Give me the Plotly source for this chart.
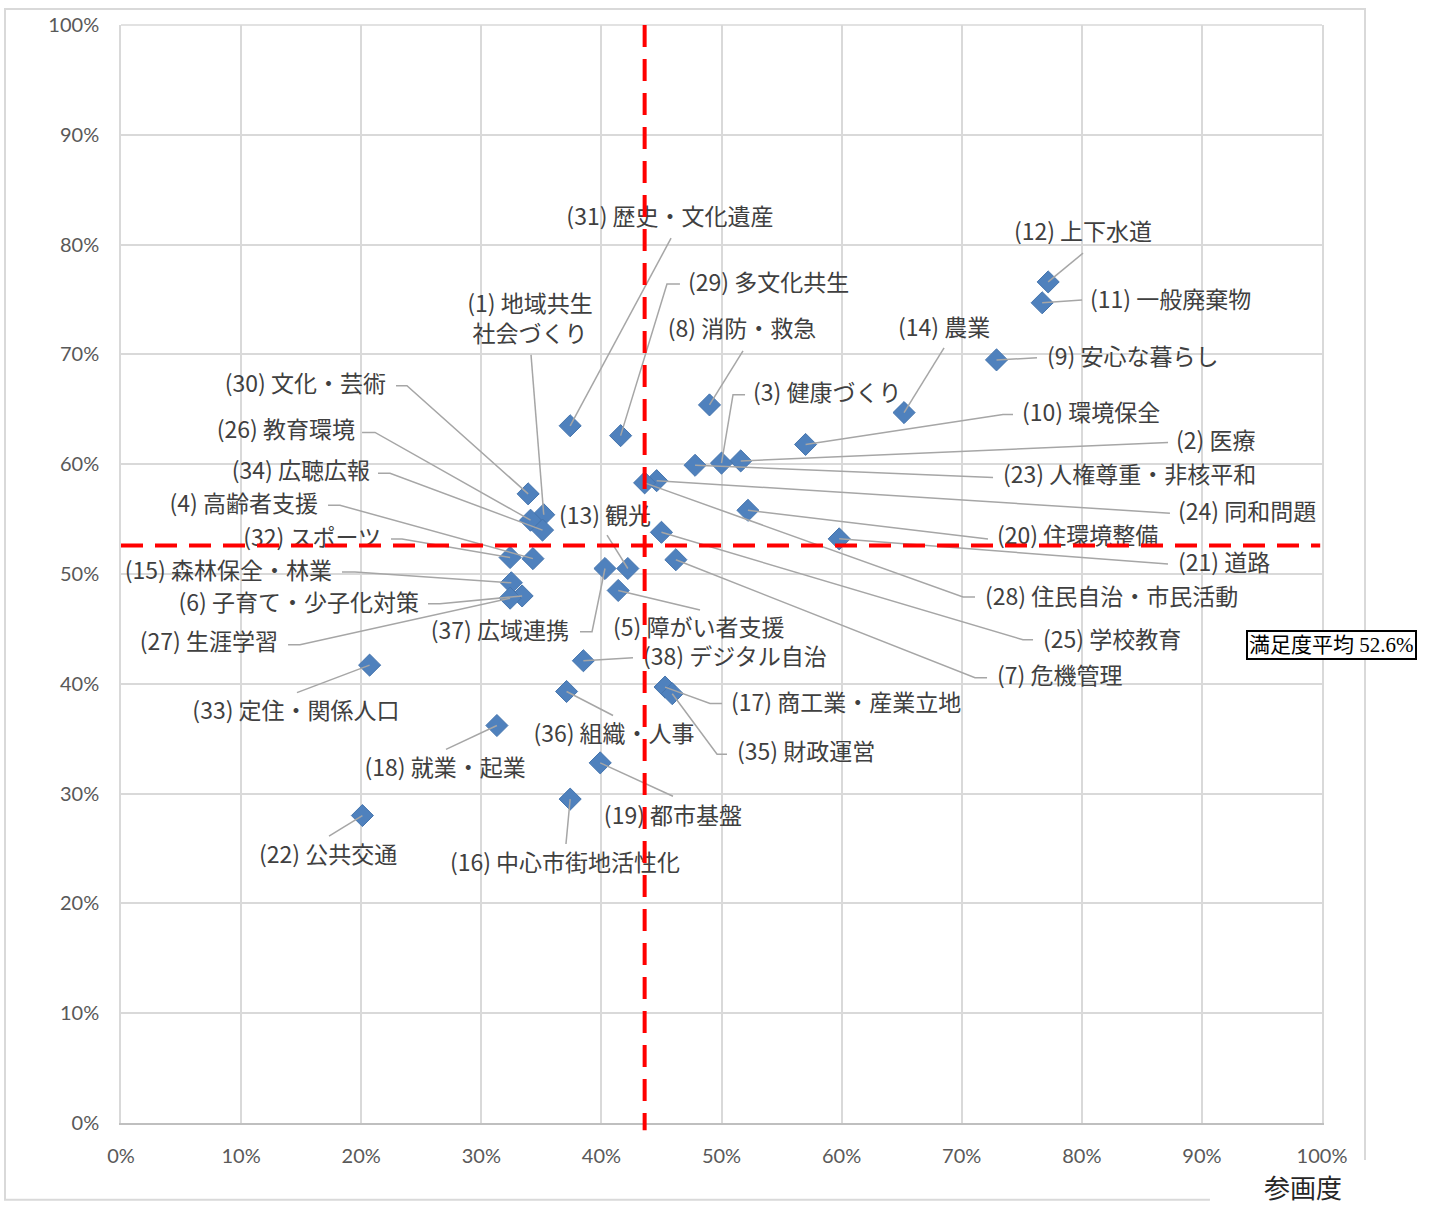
import plotly.graph_objects as go

# ---------------- data ----------------
item_labels = [
    "(1) 地域共生<br>社会づくり", "(2) 医療", "(3) 健康づくり", "(4) 高齢者支援",
    "(5) 障がい者支援", "(6) 子育て・少子化対策", "(7) 危機管理", "(8) 消防・救急",
    "(9) 安心な暮らし", "(10) 環境保全", "(11) 一般廃棄物", "(12) 上下水道",
    "(13) 観光", "(14) 農業", "(15) 森林保全・林業", "(16) 中心市街地活性化",
    "(17) 商工業・産業立地", "(18) 就業・起業", "(19) 都市基盤", "(20) 住環境整備",
    "(21) 道路", "(22) 公共交通", "(23) 人権尊重・非核平和", "(24) 同和問題",
    "(25) 学校教育", "(26) 教育環境", "(27) 生涯学習", "(28) 住民自治・市民活動",
    "(29) 多文化共生", "(30) 文化・芸術", "(31) 歴史・文化遺産", "(32) スポーツ",
    "(33) 定住・関係人口", "(34) 広聴広報", "(35) 財政運営", "(36) 組織・人事",
    "(37) 広域連携", "(38) デジタル自治",
]

# 参画度 (x)
participation = [
    0.352, 0.516, 0.500, 0.343, 0.414, 0.334, 0.462, 0.490, 0.729, 0.570,
    0.767, 0.772, 0.422, 0.652, 0.325, 0.374, 0.453, 0.313, 0.399, 0.522,
    0.598, 0.201, 0.478, 0.446, 0.450, 0.341, 0.324, 0.436, 0.416, 0.339,
    0.374, 0.324, 0.207, 0.351, 0.459, 0.371, 0.403, 0.385,
]

# 満足度 (y)
satisfaction = [
    0.554, 0.603, 0.601, 0.514, 0.485, 0.480, 0.513, 0.654, 0.695, 0.618,
    0.747, 0.766, 0.505, 0.647, 0.492, 0.295, 0.397, 0.362, 0.328, 0.558,
    0.532, 0.280, 0.599, 0.585, 0.538, 0.549, 0.478, 0.583, 0.626, 0.573,
    0.635, 0.515, 0.417, 0.540, 0.391, 0.393, 0.505, 0.421,
]

avg_participation = 0.436
avg_satisfaction = 0.526
avg_text = "満足度平均 52.6%"
x_axis_title = "参画度"

tick_values = [0.0, 0.1, 0.2, 0.3, 0.4, 0.5, 0.6, 0.7, 0.8, 0.9, 1.0]
tick_labels = ["0%", "10%", "20%", "30%", "40%", "50%", "60%", "70%", "80%", "90%", "100%"]

# ---------------- label placement (layout, in percent units) ----------------
# (text x, text y, side, leader waypoints from the marker outward)
label_layout = [
    (34.05, 73.05, "c", [(34.14, 69.96)]),
    (87.84, 61.89, "l", [(87.18, 61.98)]),
    (52.62, 66.24, "l", [(50.96, 66.33), (51.96, 66.33)]),
    (16.40, 56.17, "r", [(18.23, 56.26), (17.24, 56.26)]),
    (40.97, 44.92, "l", [(48.21, 46.73)]),
    (24.81, 47.19, "r", [(26.56, 47.28), (25.56, 47.28)]),
    (72.94, 40.47, "l", [(71.11, 40.56), (72.11, 40.56)]),
    (51.71, 72.14, "c", [(51.79, 70.33)]),
    (77.10, 69.60, "l", [(76.27, 69.69)]),
    (75.02, 64.43, "l", [(73.44, 64.52), (74.27, 64.52)]),
    (80.68, 74.77, "l", [(80.02, 74.95)]),
    (80.10, 80.94, "c", [(80.10, 79.22)]),
    (40.30, 55.08, "c", [(40.47, 53.54)]),
    (68.53, 72.23, "c", [(68.53, 70.60)]),
    (17.57, 50.09, "r", [(19.48, 50.18), (18.40, 50.18)]),
    (36.97, 23.50, "c", [(37.05, 25.41)]),
    (50.79, 38.02, "l", [(49.04, 38.20), (50.04, 38.20)]),
    (26.98, 32.12, "c", [(27.06, 34.03)]),
    (45.96, 27.77, "c", [(45.96, 29.76)]),
    (72.94, 53.27, "l", [(71.77, 53.18), (72.19, 53.18)]),
    (88.01, 50.82, "l", [(87.18, 50.91)]),
    (17.24, 24.23, "c", [(17.32, 26.13)]),
    (73.44, 58.80, "l", [(72.61, 58.80)]),
    (88.01, 55.44, "l", [(87.34, 55.54)]),
    (76.77, 43.83, "l", [(75.10, 44.01), (75.94, 44.01)]),
    (19.48, 62.89, "r", [(21.15, 62.89), (20.07, 62.89)]),
    (13.07, 43.56, "r", [(14.90, 43.56), (13.91, 43.56)]),
    (71.94, 47.73, "l", [(70.11, 47.91), (71.11, 47.91)]),
    (47.21, 76.32, "l", [(45.46, 76.41), (46.54, 76.41)]),
    (22.06, 67.06, "r", [(23.81, 67.15), (22.90, 67.15)]),
    (45.71, 82.30, "c", [(45.80, 80.58)]),
    (21.65, 53.09, "r", [(23.40, 53.18), (22.48, 53.18)]),
    (14.57, 37.30, "c", [(14.65, 39.20)]),
    (20.73, 59.17, "r", [(22.40, 59.17), (21.40, 59.17)]),
    (51.29, 33.58, "l", [(49.63, 33.58), (50.46, 33.58)]),
    (41.05, 35.21, "c", [(40.97, 37.11)]),
    (37.30, 44.56, "r", [(39.22, 44.74), (38.22, 44.74)]),
    (43.46, 42.20, "l", [(42.63, 42.38)]),
]

LABEL_FONT = dict(family="Noto Sans CJK JP", size=23, color="#404040")
TICK_FONT = dict(family="Lato, Noto Sans", size=20, color="#595959")
GRID = "#d9d9d9"

fig = go.Figure()

# markers
fig.add_trace(go.Scatter(
    x=participation, y=satisfaction, mode="markers",
    marker=dict(symbol="diamond", size=17, color="#4f81bd",
                line=dict(color="#4675ad", width=1)),
    hoverinfo="skip", showlegend=False, cliponaxis=False,
))

# leader lines
lx, ly = [], []
for px, py, (tx, ty, side, pts) in zip(participation, satisfaction, label_layout):
    lx.append(px)
    ly.append(py)
    for (wx, wy) in pts:
        lx.append(wx / 100)
        ly.append(wy / 100)
    lx.append(None)
    ly.append(None)
fig.add_trace(go.Scatter(
    x=lx, y=ly, mode="lines", line=dict(color="#a6a6a6", width=1.5),
    hoverinfo="skip", showlegend=False,
))

# label texts
pos_map = {"l": "middle right", "r": "middle left", "c": "middle center"}
for side in ("l", "r", "c"):
    xs, ys, ts = [], [], []
    for lab, (tx, ty, s, pts) in zip(item_labels, label_layout):
        if s == side:
            xs.append(tx / 100)
            ys.append(ty / 100)
            ts.append(lab)
    fig.add_trace(go.Scatter(
        x=xs, y=ys, mode="text", text=ts, textposition=pos_map[side],
        textfont=LABEL_FONT, hoverinfo="skip", showlegend=False, cliponaxis=False,
    ))

# average lines (on top)
red_line = dict(color="#ff0000", width=4, dash="22px,12px")
fig.add_shape(type="line", xref="x", yref="paper", x0=avg_participation, x1=avg_participation,
              y0=1.0, y1=-0.0065, line=red_line, layer="above")
fig.add_shape(type="line", xref="paper", yref="y", x0=0.0, x1=0.9985,
              y0=avg_satisfaction, y1=avg_satisfaction, line=red_line, layer="above")

# outer chart frame (gap at bottom-right for the axis title)
fig.add_shape(type="path", xref="paper", yref="paper",
              path="M 0.9067 -0.0699 L -0.0966 -0.0699 L -0.0966 1.0145 L 1.0358 1.0145 L 1.0358 -0.0336",
              line=dict(color=GRID, width=2), layer="below")

# axis title
fig.add_annotation(xref="paper", yref="paper", x=0.9842, y=-0.0608, text=x_axis_title,
                   showarrow=False, xanchor="center", yanchor="middle",
                   font=dict(family="Liberation Serif, Noto Sans CJK JP", size=26, color="#262626"))

# average text box
fig.add_annotation(xref="paper", yref="paper", x=1.0083, y=0.4356, text=avg_text,
                   showarrow=False, xanchor="center", yanchor="middle",
                   font=dict(family="Liberation Serif, Noto Sans CJK JP", size=21, color="#000000"),
                   bordercolor="#000000", borderwidth=2, borderpad=1, bgcolor="#ffffff")

fig.update_xaxes(range=[0, 1], tickvals=tick_values, ticktext=tick_labels,
                 showgrid=True, gridcolor=GRID, gridwidth=1.6, zeroline=False,
                 showline=True, linecolor="#bfbfbf", linewidth=2, mirror=False,
                 ticks="", tickfont=TICK_FONT, ticklabelstandoff=14, fixedrange=True)
fig.update_yaxes(range=[0, 1], tickvals=tick_values, ticktext=tick_labels,
                 showgrid=True, gridcolor=GRID, gridwidth=1.6, zeroline=False,
                 showline=True, linecolor=GRID, linewidth=1.6, mirror=True,
                 ticks="", tickfont=TICK_FONT, ticklabelstandoff=16, fixedrange=True)

fig.add_shape(type="line", xref="paper", yref="paper", x0=0, x1=1, y0=1, y1=1,
              line=dict(color=GRID, width=1.6), layer="below")

fig.update_layout(
    width=1436, height=1206,
    margin=dict(l=121, r=114, t=21, b=83),
    paper_bgcolor="#ffffff", plot_bgcolor="#ffffff",
    showlegend=False,
)

fig.write_html("out.html", config={"displayModeBar": False},
               post_script="document.body.style.margin='0';document.body.style.overflow='hidden';")
